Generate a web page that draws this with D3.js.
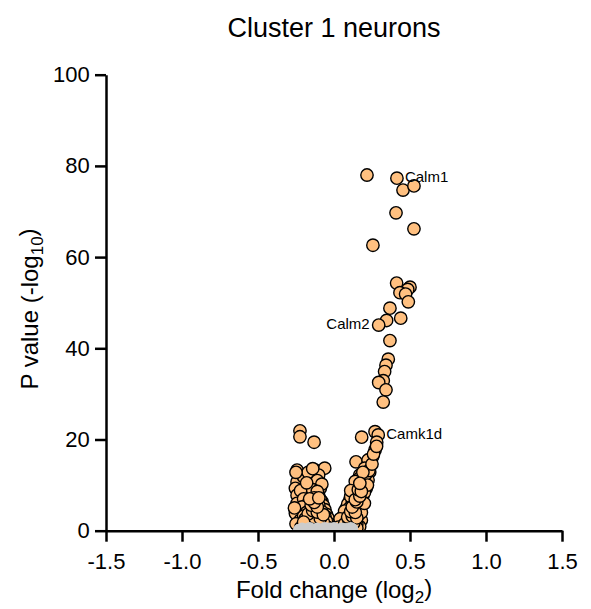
<!DOCTYPE html>
<html>
<head>
<meta charset="utf-8">
<script src="https://cdn.jsdelivr.net/npm/d3@7"></script>
<style>
  body { margin: 0; background: #fff; }
  text { font-family: "Liberation Sans", Arial, sans-serif; fill: #000; }
</style>
</head>
<body>
<script>
// volcano plot, cluster 1 neurons
var width = 591,
    height = 609;

// [fold change (log2), p value (-log10)]
const upGenes = [
  [0.217, 78.0], [0.414, 77.3], [0.454, 74.7], [0.526, 75.6], [0.408, 69.7],
  [0.526, 66.2], [0.256, 62.6],
  [0.412, 54.3], [0.500, 53.4], [0.485, 52.9], [0.434, 52.2], [0.471, 51.9],
  [0.489, 50.2], [0.368, 48.8], [0.439, 46.6], [0.346, 46.1], [0.294, 45.1],
  [0.368, 41.7], [0.357, 37.6], [0.342, 36.3], [0.333, 34.9], [0.324, 32.9],
  [0.294, 32.5], [0.342, 30.9], [0.324, 28.2],
  [0.182, 20.5], [0.270, 21.7], [0.291, 21.0], [0.281, 19.4], [0.270, 17.7],
  [0.254, 16.2], [0.237, 15.1], [0.145, 15.1], [0.219, 14.0], [0.224, 15.5],
  [0.202, 13.7], [0.235, 12.9], [0.169, 12.2], [0.224, 11.1], [0.147, 10.0],
  [0.212, 9.3], [0.125, 8.6], [0.191, 7.8], [0.103, 6.7], [0.169, 6.4],
  [0.081, 4.9], [0.147, 4.5], [0.059, 3.1], [0.125, 2.7], [0.180, 2.3],
  [0.037, 1.6], [0.103, 1.3], [0.169, 0.9],
  [0.09, 5.8], [0.12, 6.0], [0.15, 7.2], [0.11, 7.5], [0.14, 8.8], [0.17, 9.8],
  [0.13, 3.8], [0.10, 3.6], [0.07, 3.8], [0.16, 5.4], [0.18, 6.8], [0.20, 8.4],
  [0.19, 10.8], [0.17, 11.6], [0.21, 12.4], [0.08, 2.4], [0.11, 2.3], [0.14, 2.0],
  [0.16, 3.4], [0.06, 2.0], [0.05, 1.0], [0.08, 1.0], [0.13, 1.2], [0.15, 1.5],
  [0.12, 4.6], [0.10, 4.9], [0.16, 8.0], [0.13, 5.5], [0.18, 4.0], [0.20, 6.0],
  [0.22, 10.0], [0.23, 13.2], [0.25, 14.6], [0.26, 16.8], [0.28, 18.5], [0.14, 10.8],
  [0.19, 12.8], [0.11, 8.8], [0.07, 4.3], [0.04, 2.6], [0.03, 0.8],
  [0.06, 0.6], [0.09, 0.5], [0.12, 0.7], [0.15, 0.6], [0.07, 1.5], [0.10, 1.8],
  [0.13, 1.7], [0.09, 3.0], [0.12, 3.2], [0.15, 2.8], [0.11, 4.2], [0.14, 4.0],
  [0.12, 5.2], [0.15, 6.3], [0.14, 6.8], [0.17, 7.6], [0.16, 9.0], [0.18, 8.6],
  [0.17, 10.4]
];

const downGenes = [
  [-0.224, 21.9], [-0.224, 20.6], [-0.131, 19.4],
  [-0.243, 13.3], [-0.232, 12.2], [-0.123, 13.3], [-0.061, 13.7], [-0.101, 12.2],
  [-0.156, 11.5], [-0.243, 10.7], [-0.133, 10.4], [-0.254, 9.3], [-0.189, 9.6],
  [-0.090, 9.3], [-0.243, 7.8], [-0.166, 8.2], [-0.101, 7.8], [-0.243, 6.0],
  [-0.145, 6.4], [-0.079, 6.4], [-0.254, 3.8], [-0.189, 4.2], [-0.123, 4.9],
  [-0.068, 4.2], [-0.222, 2.3], [-0.156, 2.7], [-0.101, 2.3], [-0.046, 2.0],
  [-0.20, 11.8], [-0.17, 12.8], [-0.11, 11.0], [-0.08, 10.2], [-0.22, 8.8],
  [-0.14, 9.0], [-0.11, 8.6], [-0.20, 7.0], [-0.13, 7.2], [-0.09, 6.8],
  [-0.17, 6.0], [-0.12, 5.8], [-0.07, 5.5], [-0.21, 5.2], [-0.15, 5.0],
  [-0.10, 4.8], [-0.06, 4.6], [-0.18, 4.0], [-0.13, 3.9], [-0.09, 3.8],
  [-0.05, 3.6], [-0.20, 3.2], [-0.16, 3.3], [-0.12, 3.1], [-0.08, 3.0],
  [-0.04, 2.8], [-0.19, 2.6], [-0.14, 2.4], [-0.11, 2.5], [-0.07, 2.4],
  [-0.17, 1.8], [-0.13, 1.8], [-0.09, 1.7], [-0.06, 1.6], [-0.03, 1.5],
  [-0.15, 1.2], [-0.11, 1.1], [-0.07, 1.0], [-0.25, 1.5], [-0.26, 5.0],
  [-0.25, 12.8], [-0.14, 13.6], [-0.18, 10.5], [-0.10, 5.6], [-0.12, 6.6],
  [-0.08, 4.2], [-0.06, 3.2], [-0.10, 2.0], [-0.05, 2.1],
  [-0.16, 0.8], [-0.12, 0.6], [-0.08, 0.5], [-0.04, 0.7], [-0.19, 1.4], [-0.15, 2.1],
  [-0.11, 1.6], [-0.07, 1.9], [-0.13, 2.9], [-0.09, 2.7], [-0.17, 3.7], [-0.14, 4.4],
  [-0.11, 4.1], [-0.07, 3.5], [-0.15, 5.6], [-0.11, 5.2], [-0.13, 6.2], [-0.16, 7.0],
  [-0.10, 7.2], [-0.22, 0.6], [-0.20, 1.9]
];

const nsGenes = [
  [-0.23, 0.2], [-0.21, 0.5], [-0.18, 0.3], [-0.16, 0.6], [-0.13, 0.2], [-0.11, 0.5],
  [-0.09, 0.1], [-0.07, 0.4], [-0.05, 0.2], [-0.03, 0.5], [-0.01, 0.1], [0.01, 0.4],
  [0.03, 0.2], [0.05, 0.5], [0.07, 0.1], [0.08, 0.4], [0.10, 0.2], [0.12, 0.4],
  [-0.20, 0.1], [0.00, 0.6], [-0.06, 0.6], [0.11, 0.6]
];

// gene name, fc, p, which side the text goes
const geneLabels = [
  {name: "Calm1", fc: 0.414, p: 77.3, side: "right"},
  {name: "Calm2", fc: 0.294, p: 45.1, side: "left"},
  {name: "Camk1d", fc: 0.291, p: 21.0, side: "right"}
];

const xTicks = [-1.5, -1.0, -0.5, 0.0, 0.5, 1.0, 1.5];
const yTicks = [0, 20, 40, 60, 80, 100];

var x = d3.scaleLinear().domain([-1.5, 1.5]).range([106, 562]);
var y = d3.scaleLinear().domain([0, 100]).range([530.7, 74.7]);

const svg = d3.select("body").append("svg")
  .attr("width", width)
  .attr("height", height);

// dots don't go under the x axis
svg.append("clipPath").attr("id", "plotclip")
  .append("rect")
  .attr("x", x(-1.5)).attr("y", 0)
  .attr("width", x(1.5) - x(-1.5) + 10)
  .attr("height", y(0));

const dots = svg.append("g").attr("clip-path", "url(#plotclip)");

dots.selectAll("circle.sig")
  .data(downGenes.concat(upGenes)).enter()
  .append("circle")
  .attr("class", "sig")
  .attr("cx", d => x(d[0]))
  .attr("cy", d => y(d[1]))
  .attr("r", 6.2)
  .attr("fill", "#FFC080")
  .attr("stroke", "#000")
  .attr("stroke-width", 1.4);

dots.selectAll("circle.ns")
  .data(nsGenes).enter()
  .append("circle")
  .attr("class", "ns")
  .attr("cx", d => x(d[0]))
  .attr("cy", d => y(d[1]))
  .attr("r", 6)
  .attr("fill", "#CCCCCC");

// axes
const fmt = d3.format(".1f");
const xAxis = svg.append("g")
  .attr("transform", `translate(0,${y(0)})`)
  .call(d3.axisBottom(x).tickValues(xTicks).tickFormat(fmt).tickSize(11).tickSizeOuter(0))
xAxis.selectAll("text").attr("dy", "1.1em");

const yAxis = svg.append("g")
  .attr("transform", `translate(${x(-1.5)},0)`)
  .call(d3.axisLeft(y).tickValues(yTicks).tickSize(11).tickSizeOuter(0))
yAxis.selectAll("text").attr("dx", "-0.1em");

svg.selectAll(".domain, .tick line")
  .attr("stroke", "#000")
  .attr("stroke-width", 2.5);
svg.selectAll(".tick text")
  .style("font-size", "22px")
  .style("font-family", '"Liberation Sans", Arial, sans-serif')
  .attr("fill", "#000");
// plain hyphen for negatives, like the original
xAxis.selectAll(".tick text").text(d => fmt(d).replace("−", "-"));

// gene labels
svg.selectAll("text.gene")
  .data(geneLabels).enter()
  .append("text")
  .attr("class", "gene")
  .attr("x", d => d.side === "right" ? x(d.fc) + 8 : x(d.fc) - 9)
  .attr("y", d => y(d.p))
  .attr("dy", "0.25em")
  .attr("text-anchor", d => d.side === "right" ? "start" : "end")
  .style("font-size", "15px")
  .text(d => d.name);

// titles
svg.append("text")
  .attr("x", 334).attr("y", 37)
  .attr("text-anchor", "middle")
  .style("font-size", "27px")
  .text("Cluster 1 neurons");

const xt = svg.append("text")
  .attr("x", 334).attr("y", 598)
  .attr("text-anchor", "middle")
  .style("font-size", "24px")
  .text("Fold change (log");
xt.append("tspan").attr("dy", "0.3em").style("font-size", "17px").text("2");
xt.append("tspan").attr("dy", "-0.3em").text(")");

const yt = svg.append("text")
  .attr("transform", `translate(38,309) rotate(-90)`)
  .attr("text-anchor", "middle")
  .style("font-size", "24px")
  .text("P value (-log");
yt.append("tspan").attr("dy", "0.3em").style("font-size", "17px").text("10");
yt.append("tspan").attr("dy", "-0.3em").text(")");
</script>
</body>
</html>
